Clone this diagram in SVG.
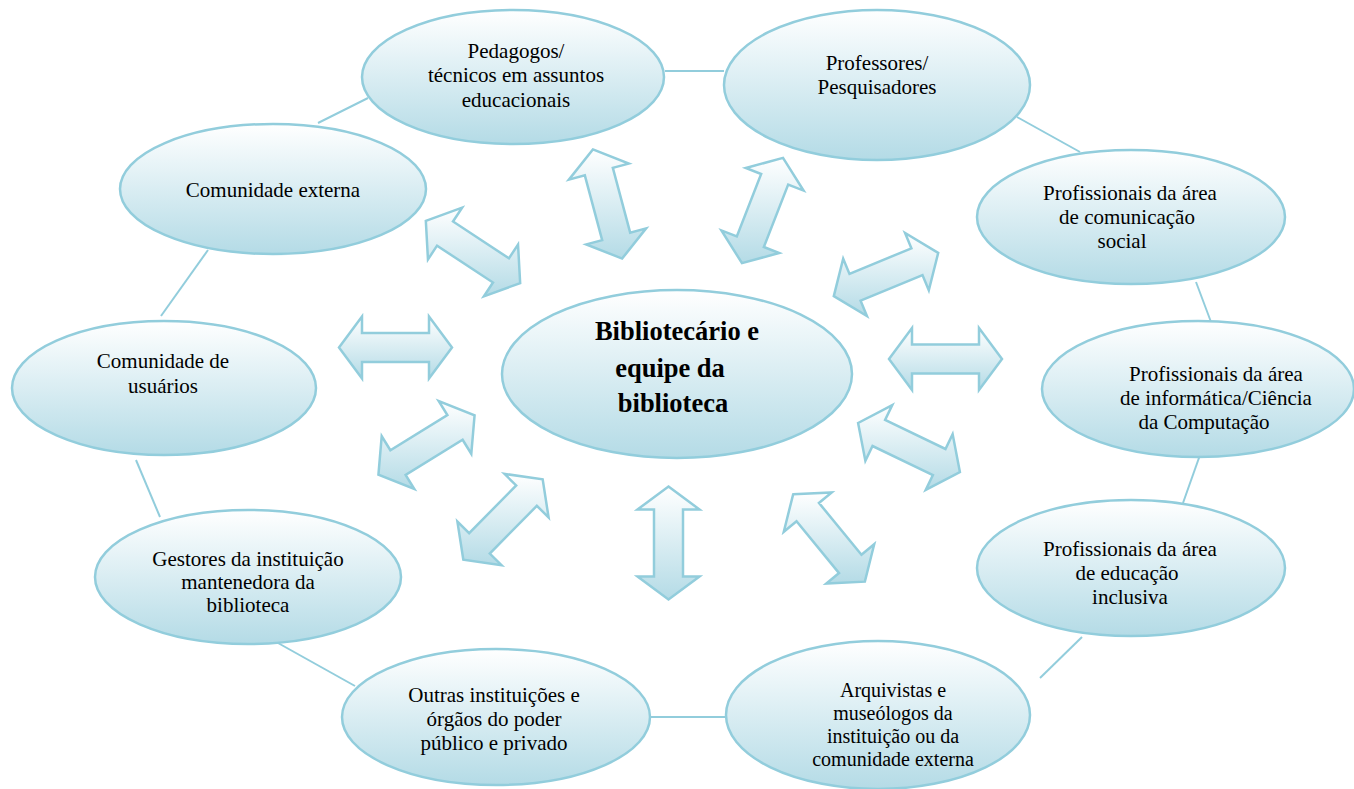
<svg xmlns="http://www.w3.org/2000/svg" width="1354" height="789" viewBox="0 0 1354 789">
<style>
.node{fill:url(#gEll);stroke:#92cddc;stroke-width:2.5}
.t{font-family:"Liberation Serif","Times New Roman","DejaVu Serif",serif;font-size:21px;fill:#000;text-anchor:middle}
.tb{font-family:"Liberation Serif","Times New Roman","DejaVu Serif",serif;font-size:26.5px;font-weight:bold;fill:#000;text-anchor:middle}
.con line{stroke:#92cddc;stroke-width:2}
.arr{stroke:#92cddc;stroke-width:2.5;stroke-linejoin:miter}
</style>
<defs>
<linearGradient id="gEll" x1="0" y1="0" x2="0" y2="1">
<stop offset="0" stop-color="#ffffff"/>
<stop offset="1" stop-color="#b4dbe6"/>
</linearGradient>
<linearGradient id="gBase">
<stop offset="0" stop-color="#ffffff"/>
<stop offset="1" stop-color="#b4dbe6"/>
</linearGradient>
<polygon id="dblArrow" points="-56.5,0 -33.5,-31 -33.5,-14.5 33.5,-14.5 33.5,-31 56.5,0 33.5,31 33.5,14.5 -33.5,14.5 -33.5,31"/>
<linearGradient id="ga1" href="#gBase" gradientUnits="userSpaceOnUse" x1="0" y1="-31" x2="0" y2="31"/>
<linearGradient id="ga2" href="#gBase" gradientUnits="userSpaceOnUse" x1="0" y1="-31" x2="0" y2="31"/>
<linearGradient id="ga3" href="#gBase" gradientUnits="userSpaceOnUse" x1="0" y1="-56.5" x2="0" y2="56.5" gradientTransform="rotate(-90)"/>
<linearGradient id="ga4" href="#gBase" gradientUnits="userSpaceOnUse" x1="0" y1="-55" x2="0" y2="55" gradientTransform="rotate(-75)"/>
<linearGradient id="ga5" href="#gBase" gradientUnits="userSpaceOnUse" x1="0" y1="-53" x2="0" y2="53" gradientTransform="rotate(68.7)"/>
<linearGradient id="ga6" href="#gBase" gradientUnits="userSpaceOnUse" x1="0" y1="-44.3" x2="0" y2="44.3" gradientTransform="rotate(-33.4)"/>
<linearGradient id="ga7" href="#gBase" gradientUnits="userSpaceOnUse" x1="0" y1="-41.4" x2="0" y2="41.4" gradientTransform="rotate(22.5)"/>
<linearGradient id="ga8" href="#gBase" gradientUnits="userSpaceOnUse" x1="0" y1="-42.4" x2="0" y2="42.4" gradientTransform="rotate(-25.7)"/>
<linearGradient id="ga9" href="#gBase" gradientUnits="userSpaceOnUse" x1="0" y1="-44" x2="0" y2="44" gradientTransform="rotate(31.7)"/>
<linearGradient id="ga10" href="#gBase" gradientUnits="userSpaceOnUse" x1="0" y1="-45.7" x2="0" y2="45.7" gradientTransform="rotate(45.4)"/>
<linearGradient id="ga11" href="#gBase" gradientUnits="userSpaceOnUse" x1="0" y1="-45.6" x2="0" y2="45.6" gradientTransform="rotate(-50.6)"/>
</defs>
<rect width="1354" height="789" fill="#ffffff"/>

<g id="connectors" class="con">
<line x1="318" y1="123" x2="368" y2="98"/>
<line x1="665" y1="71" x2="724" y2="71"/>
<line x1="1017" y1="117" x2="1080" y2="152"/>
<line x1="1196" y1="282" x2="1214" y2="330"/>
<line x1="1200" y1="455" x2="1183" y2="503"/>
<line x1="1082" y1="637" x2="1040" y2="678"/>
<line x1="650" y1="717" x2="727" y2="717"/>
<line x1="355" y1="686" x2="278" y2="643"/>
<line x1="160" y1="517" x2="136" y2="460"/>
<line x1="161" y1="316" x2="208" y2="250"/>
</g>

<g id="arrows">
<use href="#dblArrow" class="arr" fill="url(#ga1)" transform="translate(395.5,347.5)"/>
<use href="#dblArrow" class="arr" fill="url(#ga2)" transform="translate(945.5,359)"/>
<use href="#dblArrow" class="arr" fill="url(#ga3)" transform="translate(668.5,543) rotate(90)"/>
<use href="#dblArrow" class="arr" fill="url(#ga4)" transform="translate(607.5,204) rotate(75)"/>
<use href="#dblArrow" class="arr" fill="url(#ga5)" transform="translate(762.5,210.5) rotate(-68.7)"/>
<use href="#dblArrow" class="arr" fill="url(#ga6)" transform="translate(473,252) rotate(33.4)"/>
<use href="#dblArrow" class="arr" fill="url(#ga7)" transform="translate(886,274.5) rotate(-22.5)"/>
<use href="#dblArrow" class="arr" fill="url(#ga8)" transform="translate(909,447.5) rotate(25.7)"/>
<use href="#dblArrow" class="arr" fill="url(#ga9)" transform="translate(426.5,445) rotate(-31.7)"/>
<use href="#dblArrow" class="arr" fill="url(#ga10)" transform="translate(503,519.5) rotate(-45.4)"/>
<use href="#dblArrow" class="arr" fill="url(#ga11)" transform="translate(829,538) rotate(50.6)"/>
</g>

<g id="n-pedagogos">
<ellipse class="node" cx="513" cy="77" rx="151" ry="67"/>
<text class="t" x="516" y="58">Pedagogos/</text>
<text class="t" x="516" y="82">técnicos em assuntos</text>
<text class="t" x="516" y="107">educacionais</text>
</g>
<g id="n-professores">
<ellipse class="node" cx="877" cy="85" rx="153" ry="75"/>
<text class="t" x="877" y="70">Professores/</text>
<text class="t" x="877" y="94">Pesquisadores</text>
</g>
<g id="n-comunidade-externa">
<ellipse class="node" cx="273" cy="189" rx="153" ry="65"/>
<text class="t" x="273" y="197">Comunidade externa</text>
</g>
<g id="n-comunicacao">
<ellipse class="node" cx="1131" cy="217" rx="154" ry="67"/>
<text class="t" x="1130" y="200">Profissionais da área</text>
<text class="t" x="1127" y="224">de comunicação</text>
<text class="t" x="1122" y="248">social</text>
</g>
<g id="n-usuarios">
<ellipse class="node" cx="164" cy="388" rx="152" ry="67"/>
<text class="t" x="163" y="368">Comunidade de</text>
<text class="t" x="163" y="393">usuários</text>
</g>
<g id="n-central">
<ellipse class="node" cx="677" cy="374" rx="175" ry="84"/>
<text class="tb" x="677" y="340">Bibliotecário e</text>
<text class="tb" x="670" y="377">equipe da</text>
<text class="tb" x="673" y="412">biblioteca</text>
</g>
<g id="n-informatica">
<ellipse class="node" cx="1198" cy="389" rx="156" ry="68"/>
<text class="t" x="1216" y="381">Profissionais da área</text>
<text class="t" x="1216" y="405">de informática/Ciência</text>
<text class="t" x="1204" y="429">da Computação</text>
</g>
<g id="n-gestores">
<ellipse class="node" cx="248" cy="577" rx="153" ry="67"/>
<text class="t" x="248" y="566">Gestores da instituição</text>
<text class="t" x="248" y="589">mantenedora da</text>
<text class="t" x="248" y="612">biblioteca</text>
</g>
<g id="n-inclusiva">
<ellipse class="node" cx="1131" cy="568" rx="154" ry="68"/>
<text class="t" x="1130" y="556">Profissionais da área</text>
<text class="t" x="1127" y="580">de educação</text>
<text class="t" x="1130" y="604">inclusiva</text>
</g>
<g id="n-outras">
<ellipse class="node" cx="496" cy="717" rx="154" ry="68"/>
<text class="t" x="494" y="702">Outras instituições e</text>
<text class="t" x="494" y="726">órgãos do poder</text>
<text class="t" x="494" y="750">público e privado</text>
</g>
<g id="n-arquivistas">
<ellipse class="node" cx="878" cy="715" rx="152" ry="74"/>
<text class="t" x="893" y="697" style="font-size:20px">Arquivistas e</text>
<text class="t" x="893" y="720" style="font-size:20px">museólogos da</text>
<text class="t" x="893" y="743" style="font-size:20px">instituição ou da</text>
<text class="t" x="893" y="766" style="font-size:20px">comunidade externa</text>
</g>
</svg>
